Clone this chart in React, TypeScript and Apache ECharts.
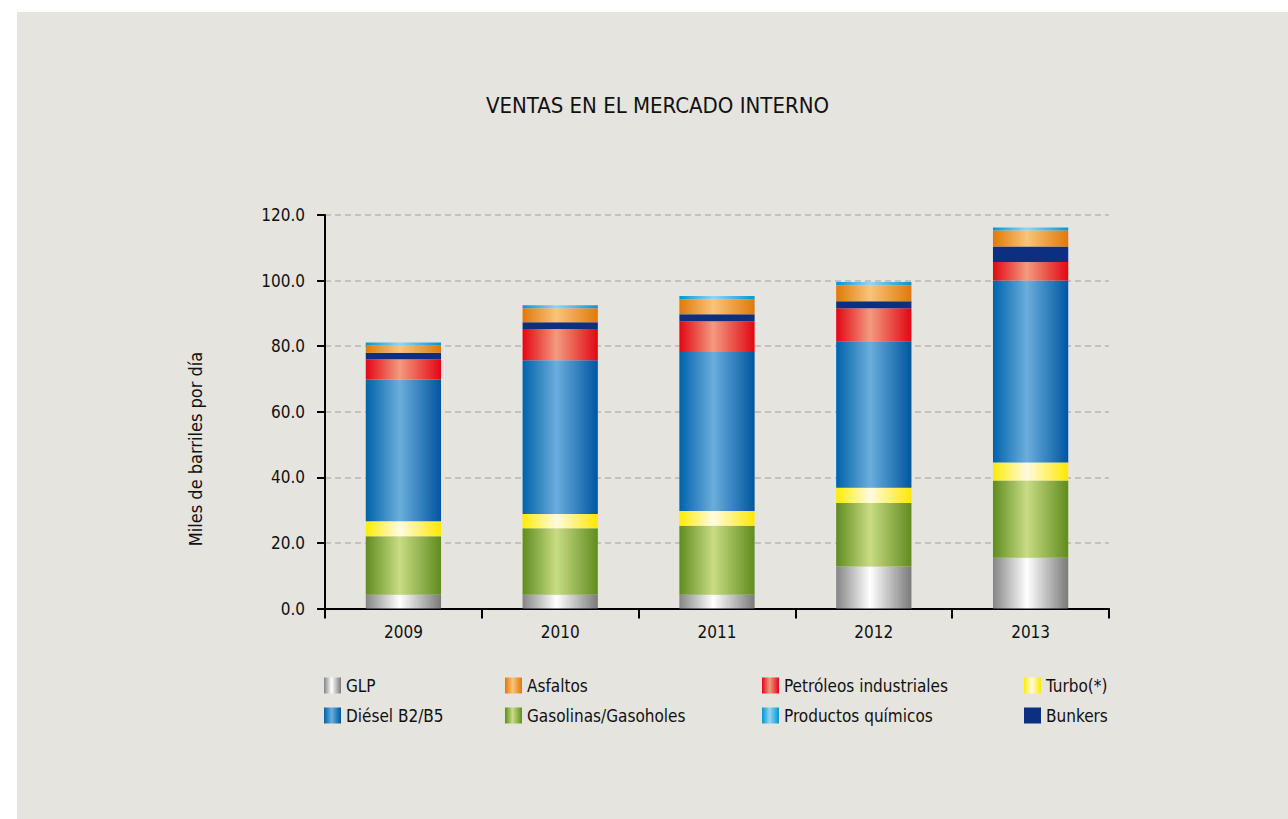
import React, { useEffect, useRef } from "react";
import * as echarts from "echarts";

const years = ["2009", "2010", "2011", "2012", "2013"];
const glp = [4.2, 4.2, 4.2, 12.8, 15.5];
const gasolinas = [17.8, 20.3, 21.0, 19.4, 23.5];
const turbo = [4.6, 4.3, 4.5, 4.6, 5.5];
const diesel = [43.2, 46.9, 48.5, 44.7, 55.5];
const petroleos = [6.2, 9.5, 9.4, 10.1, 5.7];
const bunkers = [2.0, 2.1, 2.1, 2.1, 4.7];
const asfaltos = [2.2, 4.3, 4.6, 4.9, 4.9];
const quimicos = [0.9, 0.9, 1.0, 1.0, 0.9];

const FONT = "'Liberation Sans Narrow', 'DejaVu Sans Condensed', sans-serif";

const grad = (edge: string, mid: string, edge2?: string) =>
  new echarts.graphic.LinearGradient(0, 0, 1, 0, [
    { offset: 0, color: edge },
    { offset: 0.45, color: mid },
    { offset: 1, color: edge2 || edge },
  ]);

export default function App() {
  const ref = useRef<HTMLDivElement>(null);
  useEffect(() => {
    if (!ref.current) return;
    const chart = echarts.init(ref.current, undefined, { renderer: "svg" });
    const mk = (name: string, data: number[], color: any) => ({
      name,
      type: "bar",
      stack: "total",
      barWidth: "48%",
      data,
      itemStyle: { color },
    });
    const series = [
      mk("GLP", glp, grad("#858585", "#ffffff", "#7a7a7a")),
      mk("Gasolinas/Gasoholes", gasolinas, grad("#5f8c1f", "#c9dc84", "#5f8c1f")),
      mk("Turbo(*)", turbo, grad("#ffec00", "#fffbe2", "#ffe800")),
      mk("Diésel B2/B5", diesel, grad("#0062aa", "#6aaedc", "#0056a0")),
      mk("Petróleos industriales", petroleos, grad("#e30613", "#f29b7e", "#e30613")),
      mk("Bunkers", bunkers, "#0d2f82"),
      mk("Asfaltos", asfaltos, grad("#e0790a", "#f9c47a", "#e0790a")),
      mk("Productos químicos", quimicos, grad("#0098d4", "#92d5f3", "#0098d4")),
    ];
    const legendBase = {
      orient: "vertical",
      itemWidth: 17,
      itemHeight: 16,
      itemGap: 13,
      icon: "rect",
      textStyle: { fontFamily: FONT, fontSize: 17, color: "#111" },
      top: 672,
    };
    chart.setOption({
      animation: false,
      graphic: [
        {
          type: "rect",
          shape: { x: 17, y: 12, width: 1271, height: 807 },
          style: { fill: "#e5e4df" },
          z: -10,
        },
        {
          type: "text",
          x: 195,
          y: 449,
          rotation: Math.PI / 2,
          style: {
            text: "Miles de barriles por día",
            fontFamily: FONT,
            fontSize: 18,
            fill: "#111",
            align: "center",
            verticalAlign: "middle",
          },
        },
      ],
      title: {
        text: "VENTAS EN EL MERCADO INTERNO",
        left: 481,
        top: 89,
        textStyle: { fontFamily: FONT, fontSize: 22, fontWeight: "normal", color: "#111" },
      },
      legend: [
        { ...legendBase, left: 319, data: ["GLP", "Diésel B2/B5"] },
        { ...legendBase, left: 500, data: ["Asfaltos", "Gasolinas/Gasoholes"] },
        { ...legendBase, left: 757, data: ["Petróleos industriales", "Productos químicos"] },
        { ...legendBase, left: 1019, data: ["Turbo(*)", "Bunkers"] },
      ],
      grid: { left: 325, right: 179, top: 215, bottom: 210.5 },
      xAxis: {
        type: "category",
        data: years,
        axisLine: { lineStyle: { color: "#000", width: 2 } },
        axisTick: { show: true, length: 10, lineStyle: { color: "#000", width: 2 } },
        axisLabel: { fontFamily: FONT, fontSize: 17, color: "#111", margin: 15 },
      },
      yAxis: {
        type: "value",
        min: 0,
        max: 120,
        interval: 20,
        axisLine: { show: true, lineStyle: { color: "#000", width: 2 } },
        axisTick: { show: true, length: 8, lineStyle: { color: "#000", width: 2 } },
        axisLabel: {
          fontFamily: FONT,
          fontSize: 17,
          color: "#111",
          margin: 20,
          formatter: (v: number) => v.toFixed(1),
        },
        splitLine: { lineStyle: { color: "#b8b8b4", type: [6, 4], width: 1.5 } },
      },
      series,
    });
    return () => chart.dispose();
  }, []);
  return (
    <div
      ref={ref}
      style={{ position: "absolute", left: 0, top: 0, width: 1288, height: 819, background: "#fff" }}
    />
  );
}
